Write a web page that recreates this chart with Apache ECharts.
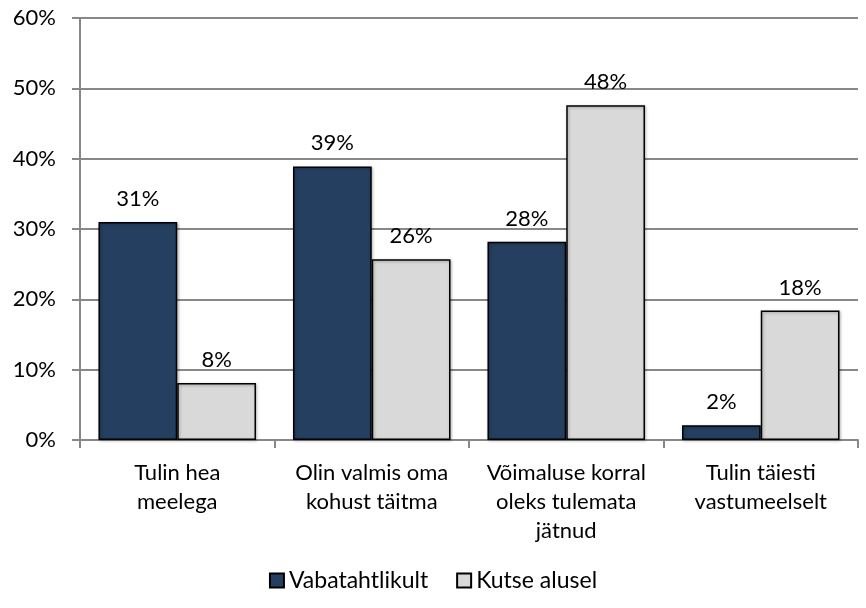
<!DOCTYPE html>
<html><head><meta charset="utf-8">
<script src="https://cdn.jsdelivr.net/npm/echarts@6/dist/echarts.min.js"></script>
<style>html,body{margin:0;padding:0;background:#fff}#c{width:866px;height:608px}</style>
</head><body><div id="c"></div>
<script>
const categories = ["Tulin hea\nmeelega", "Olin valmis oma\nkohust täitma", "Võimaluse korral\noleks tulemata\njätnud", "Tulin täiesti\nvastumeelselt"];
const seriesNames = ["Vabatahtlikult", "Kutse alusel"];
const vabatahtlikult = [31.0, 38.9, 28.2, 2.1];
const kutseAlusel = [8.1, 25.7, 47.6, 18.4];
const yTicks = [0, 10, 20, 30, 40, 50, 60];

const font = "Lato, 'Open Sans', sans-serif";
const chart = echarts.init(document.getElementById('c'));
const labelCfg = {show: true, position: 'top', distance: 12, color: '#000', fontSize: 22, fontFamily: font,
  formatter: p => Math.round(p.value) + '%'};
chart.setOption({
  animation: false,
  grid: {left: 80, right: 8, top: 18, bottom: 168},
  legend: {bottom: 11, left: 'center', itemWidth: 14, itemHeight: 14, itemGap: 28,
    textStyle: {fontSize: 23, fontFamily: font, color: '#000'},
    data: seriesNames.map(n => ({name: n, icon: 'rect'}))},
  xAxis: {type: 'category', data: categories,
    axisLine: {lineStyle: {color: '#888', width: 2}},
    axisTick: {show: true, alignWithLabel: false, length: 8, lineStyle: {color: '#888', width: 2}},
    axisLabel: {margin: 18, fontSize: 22, lineHeight: 29, color: '#000', fontFamily: font, interval: 0}},
  yAxis: {type: 'value', min: yTicks[0], max: yTicks[yTicks.length-1], interval: 10,
    axisLine: {show: true, lineStyle: {color: '#888', width: 2}},
    axisTick: {show: true, length: 8, lineStyle: {color: '#888', width: 2}},
    splitLine: {lineStyle: {color: '#888', width: 2}},
    axisLabel: {formatter: '{value}%', fontSize: 22, color: '#000', fontFamily: font, margin: 24}},
  series: [
    {name: seriesNames[0], type: 'bar', data: vabatahtlikult, barGap: '0%', barCategoryGap: '19%',
      itemStyle: {color: '#243F60', borderColor: '#000', borderWidth: 1.5, shadowColor: 'rgba(0,0,0,0.3)', shadowBlur: 3, shadowOffsetX: 1, shadowOffsetY: 1},
      label: labelCfg},
    {name: seriesNames[1], type: 'bar', data: kutseAlusel,
      itemStyle: {color: '#D9D9D9', borderColor: '#000', borderWidth: 1.5, shadowColor: 'rgba(0,0,0,0.3)', shadowBlur: 3, shadowOffsetX: 1, shadowOffsetY: 1},
      label: labelCfg}
  ]
});
</script></body></html>
